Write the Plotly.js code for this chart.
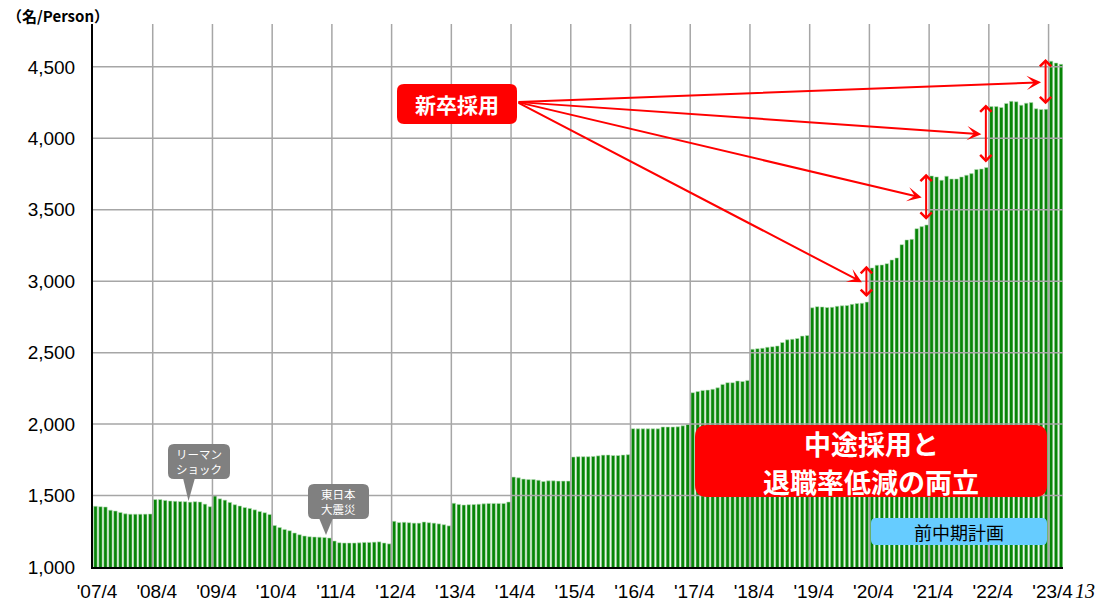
<!DOCTYPE html>
<html><head><meta charset="utf-8">
<script src="https://cdn.plot.ly/plotly-3.0.1.min.js"></script>
<style>html,body{margin:0;padding:0;background:#fff}#chart{width:1098px;height:603px}</style>
</head><body><div id="chart"></div>
<script>
// Monthly headcount (名/Person), one array per fiscal year (April–March)
const fy2007 = [1425, 1422, 1420, 1398, 1392, 1382, 1372, 1370, 1370, 1370, 1370, 1371];
const fy2008 = [1472, 1472, 1466, 1462, 1460, 1458, 1457, 1454, 1457, 1455, 1440, 1422];
const fy2009 = [1497, 1477, 1468, 1452, 1436, 1427, 1416, 1410, 1400, 1389, 1380, 1368];
const fy2010 = [1290, 1276, 1263, 1254, 1238, 1226, 1217, 1212, 1210, 1209, 1207, 1203];
const fy2011 = [1182, 1170, 1168, 1168, 1168, 1169, 1172, 1172, 1174, 1176, 1168, 1162];
const fy2012 = [1320, 1311, 1313, 1310, 1307, 1307, 1315, 1310, 1307, 1302, 1296, 1288];
const fy2013 = [1446, 1438, 1434, 1436, 1437, 1440, 1442, 1445, 1445, 1445, 1445, 1455];
const fy2014 = [1629, 1624, 1615, 1612, 1612, 1607, 1598, 1603, 1603, 1601, 1601, 1601];
const fy2015 = [1770, 1772, 1772, 1772, 1774, 1778, 1783, 1784, 1780, 1780, 1784, 1786];
const fy2016 = [1968, 1967, 1967, 1967, 1967, 1967, 1980, 1980, 1980, 1981, 1988, 1997];
const fy2017 = [2220, 2228, 2236, 2238, 2244, 2254, 2278, 2290, 2290, 2302, 2298, 2306];
const fy2018 = [2524, 2528, 2531, 2538, 2542, 2547, 2571, 2590, 2594, 2599, 2616, 2620];
const fy2019 = [2814, 2822, 2820, 2816, 2818, 2825, 2828, 2830, 2838, 2844, 2846, 2854];
const fy2020 = [3093, 3112, 3114, 3123, 3149, 3163, 3256, 3289, 3293, 3368, 3382, 3394];
const fy2021 = [3737, 3730, 3707, 3735, 3716, 3716, 3730, 3742, 3753, 3782, 3786, 3796];
const fy2022 = [4222, 4222, 4216, 4244, 4259, 4256, 4232, 4246, 4250, 4207, 4202, 4203];
const fy2023 = [4540, 4527, 4518];

const xTickLabels = ["'07/4","'08/4","'09/4","'10/4","'11/4","'12/4","'13/4","'14/4","'15/4",
                     "'16/4","'17/4","'18/4","'19/4","'20/4","'21/4","'22/4","'23/4"];
const yTickVals = [1000, 1500, 2000, 2500, 3000, 3500, 4000, 4500];
const yTickText = ['1,000','1,500','2,000','2,500','3,000','3,500','4,000','4,500'];
const newGradJumps = ["'20/4","'21/4","'22/4","'23/4"];

const values = [].concat(fy2007, fy2008, fy2009, fy2010, fy2011, fy2012, fy2013, fy2014, fy2015,
                         fy2016, fy2017, fy2018, fy2019, fy2020, fy2021, fy2022, fy2023);
const xs = values.map((v, i) => i);
const tickPos = xTickLabels.map((t, k) => k * 12 - 0.5);

// plot-area pixel geometry (for decorative boxes)
const W = 1098, H = 603, L = 93, R = 1063, T = 24, B = 567;
const px = x => (x - L) / (R - L);
const py = y => (B - y) / (B - T);
function rr(x0, y0, x1, y1, r) {
  const X = px, Y = py;
  return `M${X(x0+r)},${Y(y0)} L${X(x1-r)},${Y(y0)} Q${X(x1)},${Y(y0)} ${X(x1)},${Y(y0+r)} ` +
         `L${X(x1)},${Y(y1-r)} Q${X(x1)},${Y(y1)} ${X(x1-r)},${Y(y1)} L${X(x0+r)},${Y(y1)} ` +
         `Q${X(x0)},${Y(y1)} ${X(x0)},${Y(y1-r)} L${X(x0)},${Y(y0+r)} Q${X(x0)},${Y(y0)} ${X(x0+r)},${Y(y0)} Z`;
}
function tri(a, b, c) {
  return `M${px(a[0])},${py(a[1])} L${px(b[0])},${py(b[1])} L${px(c[0])},${py(c[1])} Z`;
}

const gridColor = '#a6a6a6';
const shapes = [];
tickPos.slice(1).forEach(x => shapes.push({type:'line', layer:'above', xref:'x', yref:'paper',
  x0:x, x1:x, y0:0, y1:1, line:{color:gridColor, width:1.5}}));
yTickVals.slice(1).forEach(y => shapes.push({type:'line', layer:'above', xref:'paper', yref:'y',
  x0:0, x1:1, y0:y, y1:y, line:{color:gridColor, width:1.5}}));
const box = (path, color) => ({type:'path', layer:'above', xref:'paper', yref:'paper', path:path,
  fillcolor:color, line:{width:0}});
shapes.push(box(rr(168, 444, 230, 479, 6), '#808080'));
shapes.push(box(tri([183, 478], [195, 478], [188.5, 501]), '#808080'));
shapes.push(box(rr(308, 484, 369, 519, 6), '#808080'));
shapes.push(box(tri([319, 518], [333, 518], [326, 535]), '#808080'));
shapes.push(box(rr(397, 84, 517, 124, 7), '#ff0000'));
shapes.push(box(rr(695, 425, 1047, 497, 12), '#ff0000'));
shapes.push(box(rr(871, 518, 1047, 545, 5), '#66ccff'));

const jp = 'Noto Sans CJK JP';
const ann = (x, y, text, font, extra) => Object.assign({xref:'paper', yref:'paper', x:px(x), y:py(y),
  text:text, showarrow:false, font:font, xanchor:'center', yanchor:'middle'}, extra || {});
const annotations = [
  ann(5, 15.5, '<b>（名/Person）</b>', {family:jp, size:15, color:'#000'}, {xanchor:'left'}),
  ann(199, 461.5, 'リーマン<br>ショック', {family:jp, size:11.5, color:'#fff'}),
  ann(338.5, 501.5, '東日本<br>大震災', {family:jp, size:11.5, color:'#fff'}),
  ann(457, 104, '<b>新卒採用</b>', {family:jp, size:21, color:'#fff'}),
  ann(871, 443, '<b>中途採用と</b>', {family:jp, size:27, color:'#fff'}),
  ann(871, 481, '<b>退職率低減の両立</b>', {family:jp, size:27, color:'#fff'}),
  ann(959, 531.5, '前中期計画', {family:jp, size:18, color:'#000'}),
  ann(1085, 603, '<i>13</i>', {family:'Liberation Serif', size:20, color:'#000'},
      {yanchor:'bottom', borderpad:0})
];
// arrows: origin at right edge of 新卒採用 box, expressed in data coordinates
const arrowOrigin = {x: 84.7, y: 4254};
newGradJumps.forEach(lbl => {
  const j = xTickLabels.indexOf(lbl) * 12;
  const lower = values[j - 1] + 25, upper = values[j] + 15;
  const xb = j - 1.1;
  annotations.push({xref:'x', yref:'y', axref:'x', ayref:'y', x:xb, y:upper, ax:xb, ay:lower,
    text:'', showarrow:true, arrowside:'end+start', arrowhead:4, startarrowhead:4,
    arrowsize:1.1, startarrowsize:1.1, arrowwidth:2, arrowcolor:'#ff0000'});
  annotations.push({xref:'x', yref:'y', axref:'x', ayref:'y', x:xb - 0.9, y:(lower + upper) / 2,
    ax:arrowOrigin.x, ay:arrowOrigin.y, text:'', showarrow:true, arrowhead:3, arrowsize:1.2,
    arrowwidth:2, arrowcolor:'#ff0000'});
});

const trace = {type:'bar', x:xs, y:values, width:0.7,
  marker:{color:'#078507', line:{color:'#b9dfb9', width:0.6}}, hoverinfo:'skip'};

const layout = {
  width:W, height:H, margin:{l:L, r:W - R, t:T, b:H - B, pad:0},
  paper_bgcolor:'#fff', plot_bgcolor:'#fff', showlegend:false, hovermode:false,
  font:{family:'Liberation Sans', color:'#000'},
  xaxis:{range:[-0.5, 194.4], tickvals:tickPos, ticktext:xTickLabels, showgrid:false, zeroline:false,
    showline:true, linecolor:'#000', linewidth:2, ticks:'', ticklabelstandoff:6, ticklabelshift:4,
    tickfont:{family:'Liberation Sans', size:19, color:'#000'}, fixedrange:true},
  yaxis:{range:[1000, 4800], tickvals:yTickVals, ticktext:yTickText, showgrid:false, zeroline:false,
    showline:true, linecolor:'#000', linewidth:2, ticks:'', ticklabelstandoff:12,
    tickfont:{family:'Liberation Sans', size:19, color:'#000'}, fixedrange:true},
  shapes:shapes, annotations:annotations
};
Plotly.newPlot('chart', [trace], layout, {displayModeBar:false, staticPlot:true});
</script></body></html>
